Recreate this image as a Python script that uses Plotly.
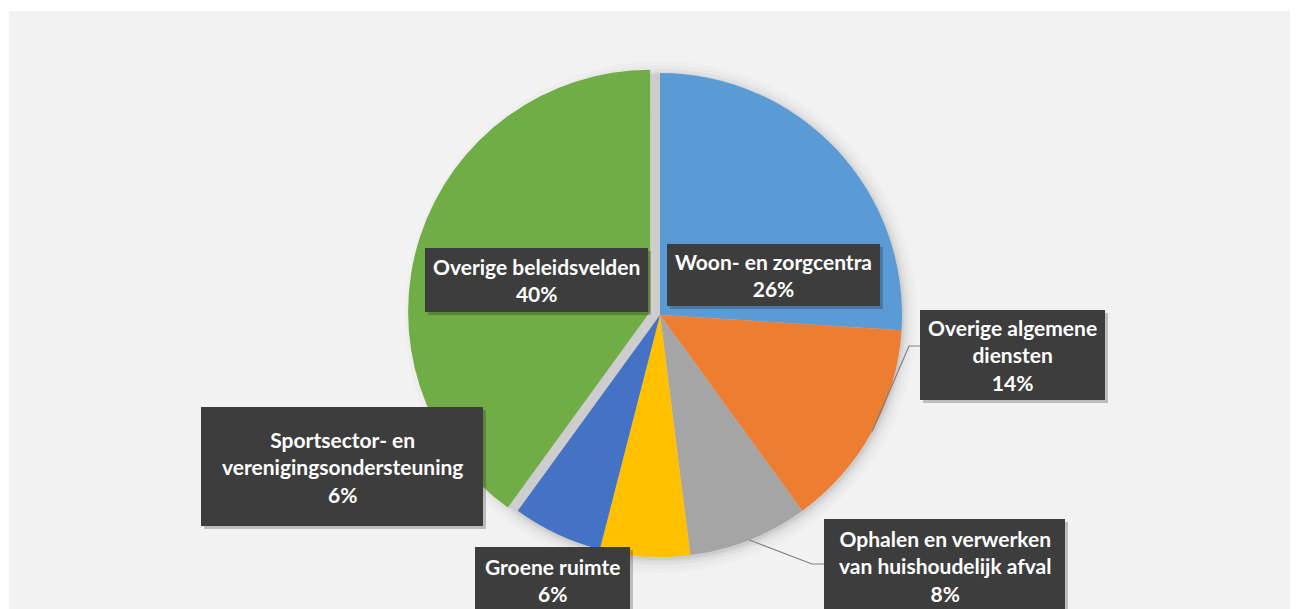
import math
import plotly.graph_objects as go

# ---- data ----
categories = [
    "Woon- en zorgcentra",
    "Overige algemene diensten",
    "Ophalen en verwerken van huishoudelijk afval",
    "Groene ruimte",
    "Sportsector- en verenigingsondersteuning",
    "Overige beleidsvelden",
]
values = [26, 14, 8, 6, 6, 40]
label_lines = [
    ["Woon- en zorgcentra"],
    ["Overige algemene", "diensten"],
    ["Ophalen en verwerken", "van huishoudelijk afval"],
    ["Groene ruimte"],
    ["Sportsector- en", "verenigingsondersteuning"],
    ["Overige beleidsvelden"],
]
colors = ["#5B9BD5", "#ED7D31", "#A5A5A5", "#FFC000", "#4472C4", "#70AD47"]
pulls = [0, 0, 0, 0, 0, 0.043]

# ---- layout geometry (pixels, screen coords; page body has an 8px margin) ----
W, H = 1298, 609
OFF = 8
CX, CY, R = 660, 315, 242
maxpull = max(pulls)
half = R * (1 + maxpull)

def px(x):
    return (x - OFF) / W

def py(y):
    return 1 - (y - OFF) / H

# label boxes: (x0, y0, x1, y1) in pixels
boxes = [
    (667, 244, 880, 306),
    (920, 310, 1105, 400),
    (824, 519, 1065, 613),
    (475, 547, 630, 613),
    (201, 407, 483, 526),
    (425, 248, 648, 312),
]
# leader line elbows (slice index -> elbow pixel point), ending at box left edge
leaders = {1: (909, 346), 2: (812, 564)}

fig = go.Figure()
fig.add_trace(go.Pie(
    labels=categories,
    values=values,
    sort=False,
    direction="clockwise",
    rotation=0,
    pull=pulls,
    marker=dict(colors=colors, line=dict(width=0)),
    textinfo="none",
    hoverinfo="label+percent",
    showlegend=False,
    domain=dict(x=[px(CX - half), px(CX + half)], y=[py(CY + half), py(CY - half)]),
))

shapes = []
# background panel
shapes.append(dict(type="rect", xref="paper", yref="paper", x0=px(9), x1=1.0, y0=0, y1=py(11),
                   fillcolor="#F2F2F2", line=dict(width=0), layer="below"))
# soft shadow under the pie
for dr, op in [(14, 0.015), (10, 0.02), (6, 0.03), (3, 0.04), (1, 0.05)]:
    r = R + dr
    shapes.append(dict(type="circle", xref="paper", yref="paper",
                       x0=px(CX - r + 1), x1=px(CX + r + 1), y0=py(CY + r + 2), y1=py(CY - r + 2),
                       fillcolor=f"rgba(0,0,0,{op})", line=dict(width=0), layer="below"))

# leader lines computed from slice mid-angles
total = sum(values)
cum = 0
mids = []
for v in values:
    mids.append((cum + v / 2) / total * 2 * math.pi)
    cum += v
for i, (ex, ey) in leaders.items():
    a = mids[i]
    sx = CX + R * math.sin(a)
    sy = CY - R * math.cos(a)
    bx = boxes[i][0]
    path = f"M {px(sx)},{py(sy)} L {px(ex)},{py(ey)} L {px(bx)},{py(ey)}"
    shapes.append(dict(type="path", xref="paper", yref="paper", path=path,
                       line=dict(color="#808080", width=1.2)))

annotations = []
for i, (x0, y0, x1, y1) in enumerate(boxes):
    # drop shadow
    shapes.append(dict(type="rect", xref="paper", yref="paper",
                       x0=px(x0 + 3), x1=px(x1 + 3), y0=py(y1 + 3), y1=py(y0 + 3),
                       fillcolor="rgba(0,0,0,0.22)", line=dict(width=0), layer="above"))
    shapes.append(dict(type="rect", xref="paper", yref="paper",
                       x0=px(x0), x1=px(x1), y0=py(y1), y1=py(y0),
                       fillcolor="#3D3D3D", line=dict(width=0), layer="above"))
    lines = label_lines[i] + [f"{values[i]}%"]
    text = "<br>".join(f"<b>{t}</b>" for t in lines)
    annotations.append(dict(
        x=px((x0 + x1) / 2), y=py((y0 + y1) / 2), xref="paper", yref="paper",
        xanchor="center", yanchor="middle", text=text, showarrow=False, align="center",
        font=dict(family="Lato, 'Open Sans', sans-serif", size=21, color="white"),
    ))

fig.update_layout(
    width=W, height=H,
    margin=dict(l=0, r=0, t=0, b=0),
    paper_bgcolor="white",
    plot_bgcolor="white",
    shapes=shapes,
    annotations=annotations,
    showlegend=False,
)

fig.write_html("out.html")
